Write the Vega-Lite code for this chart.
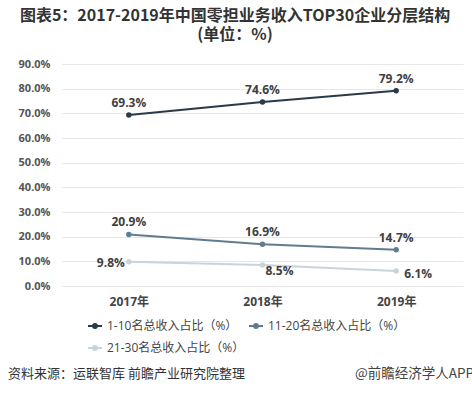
{
  "$schema": "https://vega.github.io/schema/vega-lite/v6.json",
  "background": "white",
  "padding": {"left": 8, "top": 8, "right": 0, "bottom": 0},
  "spacing": 11,
  "columns": 1,
  "align": "none",
  "config": {
    "view": {"stroke": null},
    "font": "Open Sans, Noto Sans CJK SC"
  },
  "title": {
    "text": ["图表5：2017-2019年中国零担业务收入TOP30企业分层结构", "(单位：%)"],
    "font": "Noto Sans CJK SC",
    "fontSize": 16,
    "fontWeight": "bold",
    "color": "#333333",
    "anchor": "middle",
    "lineHeight": 19,
    "offset": 15,
    "dx": -6
  },
  "resolve": {"legend": {"color": "independent"}},
  "datasets": {
    "main": [
      {"year": "2017年", "series": "1-10名总收入占比（%）", "value": 69.3, "label": "69.3%"},
      {"year": "2018年", "series": "1-10名总收入占比（%）", "value": 74.6, "label": "74.6%"},
      {"year": "2019年", "series": "1-10名总收入占比（%）", "value": 79.2, "label": "79.2%"},
      {"year": "2017年", "series": "11-20名总收入占比（%）", "value": 20.9, "label": "20.9%"},
      {"year": "2018年", "series": "11-20名总收入占比（%）", "value": 16.9, "label": "16.9%"},
      {"year": "2019年", "series": "11-20名总收入占比（%）", "value": 14.7, "label": "14.7%"},
      {"year": "2017年", "series": "21-30名总收入占比（%）", "value": 9.8, "label": "9.8%"},
      {"year": "2018年", "series": "21-30名总收入占比（%）", "value": 8.5, "label": "8.5%"},
      {"year": "2019年", "series": "21-30名总收入占比（%）", "value": 6.1, "label": "6.1%"}
    ],
    "foot": [
      {"pos": "l", "text": "资料来源：运联智库 前瞻产业研究院整理"},
      {"pos": "r", "text": "@前瞻经济学人APP"}
    ]
  },
  "concat": [
    {
      "width": 401,
      "height": 222,
      "data": {"name": "main"},
      "encoding": {
        "x": {
          "field": "year", "type": "ordinal",
          "scale": {"type": "point", "padding": 0.5},
          "axis": {
            "title": null, "labelAngle": 0, "domain": false, "ticks": false, "grid": false,
            "labelPadding": 10, "labelFontSize": 12, "labelFontWeight": "bold", "labelColor": "#444444"
          }
        },
        "y": {
          "field": "value", "type": "quantitative",
          "scale": {"domain": [0, 90], "nice": false},
          "axis": {
            "title": null, "values": [0, 10, 20, 30, 40, 50, 60, 70, 80, 90],
            "labelExpr": "format(datum.value, '.1f') + '%'",
            "domain": false, "ticks": false, "labelPadding": 12,
            "labelFontSize": 11, "labelFontWeight": "bold", "labelColor": "#555555",
            "gridColor": "#e6e6e6", "gridWidth": 1
          }
        },
        "color": {
          "field": "series", "type": "nominal",
          "scale": {
            "domain": ["1-10名总收入占比（%）", "11-20名总收入占比（%）", "21-30名总收入占比（%）"],
            "range": ["#2b3a48", "#5f7d8f", "#c8d4dc"]
          },
          "legend": {
            "title": null, "orient": "none", "legendX": 25, "legendY": 254,
            "direction": "horizontal", "columns": 2,
            "symbolType": "M-1,0H1M-0.28,0a0.28,0.28 0 1,0 0.56,0a0.28,0.28 0 1,0 -0.56,0",
            "symbolSize": 196, "symbolStrokeWidth": 2,
            "labelFont": "Open Sans, Noto Sans CJK SC", "labelFontSize": 12, "labelColor": "#444444",
            "labelFontWeight": "normal", "labelOffset": 4,
            "columnPadding": 0, "rowPadding": 8, "labelLimit": 200
          }
        }
      },
      "layer": [
        {"mark": {"type": "line", "strokeWidth": 2}},
        {"mark": {"type": "point", "filled": true, "size": 30, "opacity": 1}},
        {
          "transform": [{"filter": "datum.series !== '21-30名总收入占比（%）'"}],
          "mark": {"type": "text", "dy": -12, "fontSize": 12, "fontWeight": "bold", "color": "#404040"},
          "encoding": {"text": {"field": "label"}, "color": {"value": "#404040"}}
        },
        {
          "transform": [{"filter": "datum.series === '21-30名总收入占比（%）' && datum.year === '2017年'"}],
          "mark": {"type": "text", "align": "right", "dx": -4, "dy": 1, "fontSize": 12, "fontWeight": "bold", "color": "#404040"},
          "encoding": {"text": {"field": "label"}, "color": {"value": "#404040"}}
        },
        {
          "transform": [{"filter": "datum.series === '21-30名总收入占比（%）' && datum.year === '2018年'"}],
          "mark": {"type": "text", "align": "left", "dx": 3, "dy": 6, "fontSize": 12, "fontWeight": "bold", "color": "#404040"},
          "encoding": {"text": {"field": "label"}, "color": {"value": "#404040"}}
        },
        {
          "transform": [{"filter": "datum.series === '21-30名总收入占比（%）' && datum.year === '2019年'"}],
          "mark": {"type": "text", "align": "left", "dx": 8, "dy": 3, "fontSize": 12, "fontWeight": "bold", "color": "#404040"},
          "encoding": {"text": {"field": "label"}, "color": {"value": "#404040"}}
        }
      ]
    },
    {
      "width": 401,
      "height": 18,
      "data": {"name": "foot"},
      "encoding": {
        "x": {"field": "pos", "type": "nominal", "scale": {"type": "point", "padding": 0, "domain": ["l", "r"]}, "axis": null},
        "text": {"field": "text"}
      },
      "layer": [
        {
          "transform": [{"filter": "datum.pos === 'l'"}],
          "mark": {"type": "text", "align": "left", "baseline": "middle", "y": 9, "dx": -54, "font": "Noto Sans CJK SC", "fontSize": 13, "color": "#333333"}
        },
        {
          "transform": [{"filter": "datum.pos === 'r'"}],
          "mark": {"type": "text", "align": "right", "baseline": "middle", "y": 9, "dx": 11, "font": "Noto Sans CJK SC", "fontSize": 13.5, "color": "#444444"}
        }
      ]
    }
  ]
}
